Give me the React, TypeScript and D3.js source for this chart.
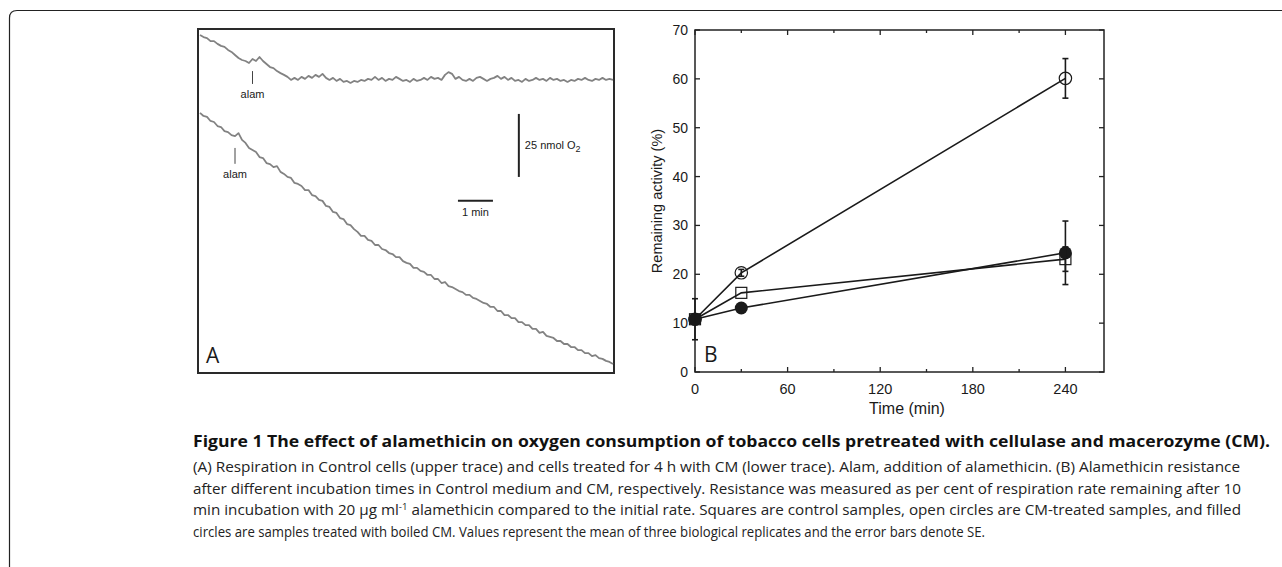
import React from 'react';
import * as d3 from 'd3';

// ---------- Panel A: oxygen electrode traces (time in min, O2 in nmol) ----------
const traceStep = 0.1; // min between samples
const upperTrace = [
  134.1, 133.3, 132.9, 131.7, 131.7, 130.6, 129.8, 129.4, 128.2, 127.4,
  126.2, 125.0, 124.2, 123.8, 123.0, 124.6, 123.8, 125.4, 123.8, 122.6,
  121.4, 121.0, 119.8, 119.0, 118.3, 117.5, 116.3, 117.1, 116.3, 117.5,
  116.7, 117.9, 117.1, 118.3, 117.5, 118.7, 117.1, 116.3, 117.1, 115.9,
  116.7, 115.5, 115.9, 115.1, 115.9, 115.5, 116.3, 115.9, 116.7, 116.3,
  117.5, 116.3, 117.1, 115.9, 116.7, 116.3, 117.5, 116.7, 115.9, 116.3,
  115.5, 116.7, 115.9, 116.3, 117.1, 116.3, 117.5, 116.7, 117.1, 116.3,
  118.3, 119.4, 118.7, 116.7, 117.5, 116.3, 115.9, 116.7, 115.9, 117.1,
  117.5, 116.7, 115.9, 116.7, 117.1, 117.9, 116.7, 117.5, 116.3, 117.1,
  115.9, 116.3, 115.5, 116.7, 115.9, 116.3, 117.1, 116.3, 116.7, 115.9,
  117.1, 116.3, 116.7, 115.9, 116.3, 115.5, 116.3, 115.9, 116.7, 116.3,
  117.1, 116.3, 115.9, 116.7, 116.3, 117.1, 116.3, 116.7, 116.3,
];
const lowerTrace = [
  103.2, 102.0, 101.6, 100.0, 99.6, 98.0, 97.6, 96.0, 95.6, 94.4,
  94.0, 95.2, 92.5, 91.3, 89.3, 88.5, 87.7, 85.7, 85.3, 83.3,
  82.9, 81.7, 82.1, 79.8, 79.0, 77.8, 77.4, 75.4, 75.0, 74.2,
  72.6, 72.6, 70.6, 70.2, 68.7, 68.3, 66.3, 65.9, 63.9, 63.5,
  61.5, 61.1, 59.1, 58.7, 57.1, 56.0, 54.4, 54.4, 52.8, 52.4,
  50.8, 50.8, 49.2, 48.8, 47.6, 47.2, 46.0, 46.0, 44.4, 43.7,
  43.3, 41.7, 41.7, 40.5, 40.1, 38.9, 38.9, 37.3, 37.3, 35.7,
  36.1, 34.5, 34.1, 33.3, 32.5, 32.1, 31.0, 31.0, 29.8, 29.4,
  28.6, 27.8, 27.4, 26.2, 26.2, 24.6, 24.6, 23.0, 23.0, 21.8,
  21.8, 20.2, 20.2, 19.0, 19.0, 17.5, 17.5, 15.9, 16.3, 14.7,
  14.3, 13.9, 12.7, 12.7, 11.5, 11.5, 10.3, 10.3, 9.1, 9.1,
  7.9, 7.9, 6.7, 7.1, 5.9, 5.6, 4.8, 4.4, 3.6,
];
// alamethicin additions: [time (min), O2 at tick top, O2 at tick bottom]
const alamUpper = [1.5, 119.8, 114.7];
const alamLower = [1.0, 89.3, 83.0];
// scale bars: O2 bar (25 nmol) at time 9.11 min, 1 min bar at O2 68.3
const o2BarTime = 9.11;
const o2BarTop = 102.8;
const o2BarAmount = 25;
const timeBarStart = 7.37;
const timeBarLength = 1;
const timeBarLevel = 68.3;

// ---------- Panel B: remaining activity ----------
const timesB = [0, 30, 240];
const controlVals = [10.8, 16.2, 23.1];
const controlErr = [0, 0, 2.5];
const cmVals = [10.8, 20.3, 60.1];
const cmErr = [0, 0.7, 4.05];
const boiledVals = [10.8, 13.1, 24.4];
const boiledErr = [4.2, 0, 6.5];
const yTicksB = [0, 10, 20, 30, 40, 50, 60, 70];
const xTicksB = [0, 60, 120, 180, 240];
const xMinorTicksB = [30, 90, 150, 210];

const captionTitle =
  'Figure 1 The effect of alamethicin on oxygen consumption of tobacco cells pretreated with cellulase and macerozyme (CM).';
const captionLines = [
  '(A) Respiration in Control cells (upper trace) and cells treated for 4 h with CM (lower trace). Alam, addition of alamethicin. (B) Alamethicin resistance',
  'after different incubation times in Control medium and CM, respectively. Resistance was measured as per cent of respiration rate remaining after 10',
  'min incubation with 20 μg ml|-1|alamethicin compared to the initial rate. Squares are control samples, open circles are CM-treated samples, and filled',
  'circles are samples treated with boiled CM. Values represent the mean of three biological replicates and the error bars denote SE.',
];
const captionLineEnds = [1240, 1241, 1241, 985];

export default function App() {
  // Panel A scales
  const xA = d3.scaleLinear().domain([0, 11.8]).range([200, 613]);
  const yA = d3.scaleLinear().domain([0, 136.5]).range([373, 29]);
  const lineA = d3
    .line<number>()
    .x((_, i) => xA(i * traceStep))
    .y((d) => yA(d));

  // Panel B scales
  const xB = d3.scaleLinear().domain([0, 265]).range([695, 1104]);
  const yB = d3.scaleLinear().domain([0, 70]).range([372, 30]);
  const lineB = d3
    .line<number>()
    .x((_, i) => xB(timesB[i]))
    .y((d) => yB(d));

  const sans = "'Liberation Sans', Arial, Helvetica, sans-serif";
  const caption = "'Open Sans', sans-serif";
  const ink = '#1a1a1a';

  const errBars = (vals: number[], errs: number[], key: string) =>
    vals.map((v, i) =>
      errs[i] > 0 ? (
        <g key={key + i} stroke={ink} strokeWidth={1.6}>
          <line x1={xB(timesB[i])} x2={xB(timesB[i])} y1={yB(v - errs[i])} y2={yB(v + errs[i])} />
          <line x1={xB(timesB[i]) - 3} x2={xB(timesB[i]) + 3} y1={yB(v - errs[i])} y2={yB(v - errs[i])} />
          <line x1={xB(timesB[i]) - 3} x2={xB(timesB[i]) + 3} y1={yB(v + errs[i])} y2={yB(v + errs[i])} />
        </g>
      ) : null
    );

  const [x0B, x1B] = xB.range();
  const [y0B, y1B] = yB.range();

  return (
    <svg
      width={1282}
      height={567}
      style={{ position: 'absolute', left: 0, top: 0, background: '#fff' }}
    >
      {/* outer border */}
      <path d="M9.5,567 V18 Q9.5,10.5 17,10.5 H1282" fill="none" stroke="#222" strokeWidth={1.2} />

      {/* ---------- Panel A ---------- */}
      <rect x={198} y={29} width={416} height={344} fill="#fff" stroke="#2a2a2a" strokeWidth={2} />
      <path d={lineA(upperTrace) || ''} fill="none" stroke="#828282" strokeWidth={1.8} strokeLinejoin="round" />
      <path d={lineA(lowerTrace) || ''} fill="none" stroke="#828282" strokeWidth={1.8} strokeLinejoin="round" />
      {[alamUpper, alamLower].map((a, i) => (
        <g key={'alam' + i}>
          <line x1={xA(a[0])} x2={xA(a[0])} y1={yA(a[1])} y2={yA(a[2])} stroke="#444" strokeWidth={1} />
          <text x={xA(a[0])} y={yA(a[2]) + 14} textAnchor="middle" fontFamily={sans} fontSize={11} fill={ink}>
            alam
          </text>
        </g>
      ))}
      <line
        x1={xA(o2BarTime)}
        x2={xA(o2BarTime)}
        y1={yA(o2BarTop)}
        y2={yA(o2BarTop - o2BarAmount)}
        stroke="#222"
        strokeWidth={2}
      />
      <text x={xA(o2BarTime) + 6} y={yA(o2BarTop - o2BarAmount / 2) + 4} fontFamily={sans} fontSize={11} fill={ink}>
        25 nmol O
        <tspan dy={3} fontSize={9}>2</tspan>
      </text>
      <line
        x1={xA(timeBarStart)}
        x2={xA(timeBarStart + timeBarLength)}
        y1={yA(timeBarLevel)}
        y2={yA(timeBarLevel)}
        stroke="#222"
        strokeWidth={2}
      />
      <text
        x={xA(timeBarStart + timeBarLength / 2)}
        y={yA(timeBarLevel) + 15}
        textAnchor="middle"
        fontFamily={sans}
        fontSize={11}
        fill={ink}
      >
        1 min
      </text>
      <text x={206} y={363} fontFamily={caption} fontSize={21} fill={ink}>
        A
      </text>

      {/* ---------- Panel B ---------- */}
      <rect x={x0B} y={y1B} width={x1B - x0B} height={y0B - y1B} fill="none" stroke="#222" strokeWidth={1.5} />
      {yTicksB.map((t) => (
        <g key={'yt' + t}>
          <line x1={x0B} x2={x0B + 5} y1={yB(t)} y2={yB(t)} stroke="#222" strokeWidth={1.3} />
          <line x1={x1B} x2={x1B - 5} y1={yB(t)} y2={yB(t)} stroke="#222" strokeWidth={1.3} />
          <text x={688} y={yB(t) + 5} textAnchor="end" fontFamily={sans} fontSize={14} fill={ink}>
            {t}
          </text>
        </g>
      ))}
      {xTicksB.map((t) => (
        <g key={'xt' + t}>
          <line x1={xB(t)} x2={xB(t)} y1={y0B} y2={y0B - 5} stroke="#222" strokeWidth={1.3} />
          <line x1={xB(t)} x2={xB(t)} y1={y1B} y2={y1B + 5} stroke="#222" strokeWidth={1.3} />
          <text x={xB(t)} y={394} textAnchor="middle" fontFamily={sans} fontSize={14.5} fill={ink}>
            {t}
          </text>
        </g>
      ))}
      {xMinorTicksB.map((t) => (
        <g key={'xm' + t}>
          <line x1={xB(t)} x2={xB(t)} y1={y0B} y2={y0B - 3} stroke="#222" strokeWidth={1.3} />
          <line x1={xB(t)} x2={xB(t)} y1={y1B} y2={y1B + 3} stroke="#222" strokeWidth={1.3} />
        </g>
      ))}
      <text
        transform={`translate(662,${(y0B + y1B) / 2}) rotate(-90)`}
        textAnchor="middle"
        fontFamily={sans}
        fontSize={14.5}
        fill={ink}
      >
        Remaining activity (%)
      </text>
      <text x={907} y={414} textAnchor="middle" fontFamily={sans} fontSize={16} fill={ink}>
        Time (min)
      </text>
      <text x={704} y={362} fontFamily={caption} fontSize={21} fill={ink}>
        B
      </text>

      {/* series lines */}
      <path d={lineB(cmVals) || ''} fill="none" stroke={ink} strokeWidth={1.6} />
      <path d={lineB(controlVals) || ''} fill="none" stroke={ink} strokeWidth={1.6} />
      <path d={lineB(boiledVals) || ''} fill="none" stroke={ink} strokeWidth={1.6} />

      {/* markers */}
      {cmVals.map((v, i) => (
        <circle key={'cm' + i} cx={xB(timesB[i])} cy={yB(v)} r={6.2} fill="none" stroke={ink} strokeWidth={1.2} />
      ))}
      {controlVals.map((v, i) => (
        <rect
          key={'ct' + i}
          x={xB(timesB[i]) - 5.5}
          y={yB(v) - 5.5}
          width={11}
          height={11}
          fill="none"
          stroke={ink}
          strokeWidth={1.2}
        />
      ))}
      {boiledVals.map((v, i) => (
        <circle key={'bo' + i} cx={xB(timesB[i])} cy={yB(v)} r={6.5} fill={ink} />
      ))}
      {errBars(cmVals, cmErr, 'ecm')}
      {errBars(controlVals, controlErr, 'ect')}
      {errBars(boiledVals, boiledErr, 'ebo')}

      {/* ---------- caption ---------- */}
      <text
        x={193}
        y={447}
        fontFamily={caption}
        fontWeight={700}
        fontSize={16}
        fill="#111"
        textLength={1077}
        lengthAdjust="spacingAndGlyphs"
      >
        {captionTitle}
      </text>
      {captionLines.map((ln, i) => {
        const parts = ln.split('|');
        return (
          <text
            key={'cap' + i}
            x={193}
            y={472 + i * 21.6}
            fontFamily={caption}
            fontSize={14.2}
            fill="#222"
            textLength={captionLineEnds[i] - 193}
            lengthAdjust="spacingAndGlyphs"
          >
            {parts.length === 1 ? (
              ln
            ) : (
              <>
                {parts[0]}
                <tspan dy={-5} fontSize={9}>
                  {parts[1]}
                </tspan>
                <tspan dy={5}> {parts[2]}</tspan>
              </>
            )}
          </text>
        );
      })}
    </svg>
  );
}
